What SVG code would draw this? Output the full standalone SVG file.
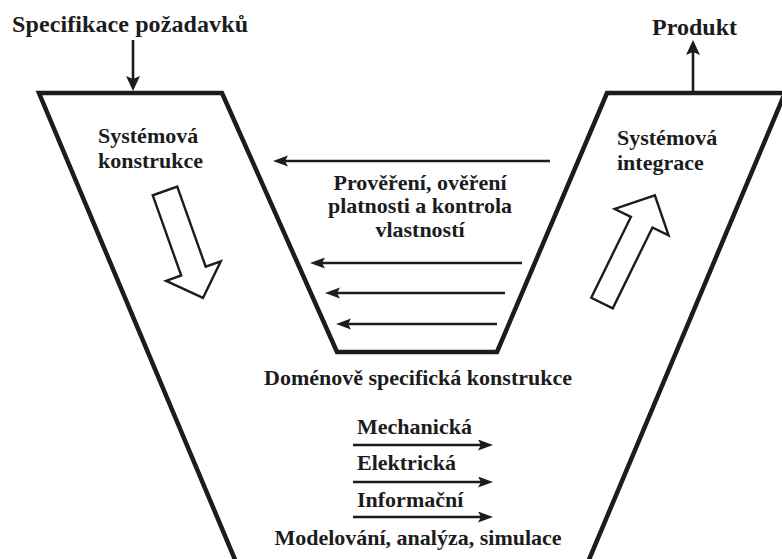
<svg xmlns="http://www.w3.org/2000/svg" width="782" height="559" viewBox="0 0 782 559">
<style>
.t{font-family:"Liberation Serif","Times New Roman",serif;font-weight:bold;fill:#1c1c1c;}
.outline{fill:none;stroke:#1c1c1c;stroke-width:4.5;stroke-linejoin:miter;}
.thin{fill:none;stroke:#1c1c1c;stroke-width:2.6;}
.hollow{fill:#fff;stroke:#1c1c1c;stroke-width:2.4;stroke-linejoin:miter;}
</style>
<defs>
<marker id="ah" markerUnits="userSpaceOnUse" markerWidth="16" markerHeight="12" refX="9" refY="5.5" orient="auto">
<path d="M0,0 L15,5.5 L0,11 L3,5.5 z" fill="#1c1c1c"/>
</marker>
<marker id="av" markerUnits="userSpaceOnUse" markerWidth="16" markerHeight="16" refX="9" refY="7" orient="auto">
<path d="M0,0 L15,7 L0,14 L3,7 z" fill="#1c1c1c"/>
</marker>
</defs>
<rect width="782" height="559" fill="#fff"/>

<g id="v-shape">
<path class="outline" d="M236,562 L39,93 L222,93 L337,352 L497,352 L607,93 L790,93"/>
<path class="outline" d="M785,93 L588,562"/>
</g>

<g id="connectors">
<line class="thin" x1="133" y1="40" x2="133" y2="85" marker-end="url(#av)"/>
<line class="thin" x1="693" y1="92" x2="693" y2="46" marker-end="url(#av)"/>
<line class="thin" x1="550" y1="161" x2="279" y2="161" marker-end="url(#ah)"/>
<line class="thin" x1="522" y1="263" x2="316" y2="263" marker-end="url(#ah)"/>
<line class="thin" x1="505" y1="293" x2="331" y2="293" marker-end="url(#ah)"/>
<line class="thin" x1="497" y1="324" x2="342" y2="324" marker-end="url(#ah)"/>
<line class="thin" x1="353" y1="445" x2="487" y2="445" marker-end="url(#ah)"/>
<line class="thin" x1="353" y1="482" x2="487" y2="482" marker-end="url(#ah)"/>
<line class="thin" x1="353" y1="517" x2="487" y2="517" marker-end="url(#ah)"/>
</g>

<g id="spec">
<text class="t" x="12" y="32" font-size="24" textLength="236">Specifikace požadavků</text>
</g>
<g id="produkt">
<text class="t" x="652" y="35" font-size="24" textLength="85">Produkt</text>
</g>

<g id="sys-konstrukce">
<text class="t" x="98" y="143" font-size="22">Systémová</text>
<text class="t" x="98" y="168" font-size="22">konstrukce</text>
<polygon class="hollow" transform="translate(165,191) rotate(70.45)" points="0,-13 85,-13 85,-29 113.5,0 85,29 85,13 0,13"/>
</g>

<g id="sys-integrace">
<text class="t" x="617" y="145" font-size="22">Systémová</text>
<text class="t" x="617" y="170" font-size="22">integrace</text>
<polygon class="hollow" transform="translate(602,303) rotate(-63.86)" points="0,-12 90,-12 90,-30 120,0 90,30 90,12 0,12"/>
</g>

<g id="overeni">
<text class="t" x="420" y="190" font-size="22" text-anchor="middle">Prověření, ověření</text>
<text class="t" x="420" y="213" font-size="22" text-anchor="middle">platnosti a kontrola</text>
<text class="t" x="420" y="237" font-size="22" text-anchor="middle">vlastností</text>
</g>

<g id="domenove">
<text class="t" x="418" y="385" font-size="22" text-anchor="middle">Doménově specifická konstrukce</text>
<text class="t" x="357" y="434" font-size="22">Mechanická</text>
<text class="t" x="357" y="470" font-size="22">Elektrická</text>
<text class="t" x="357" y="507" font-size="22">Informační</text>
<text class="t" x="418" y="545" font-size="22" text-anchor="middle">Modelování, analýza, simulace</text>
</g>
</svg>
